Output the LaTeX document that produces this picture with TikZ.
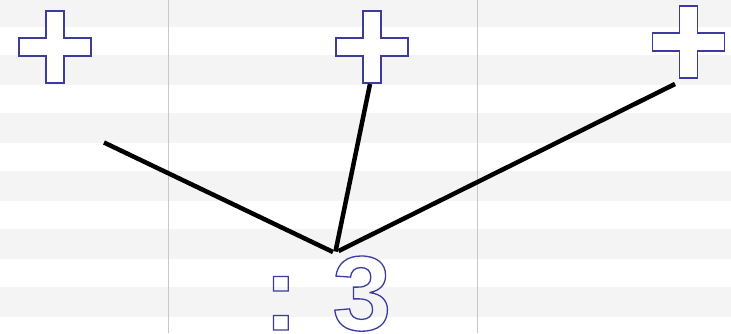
\documentclass[tikz,border=0pt]{standalone}
\usepackage{fontspec}
\setmainfont{Liberation Sans}
\definecolor{stripe}{HTML}{F4F4F4}
\definecolor{rulegray}{HTML}{C8C8C8}
\definecolor{ink}{HTML}{3C3C9C}
% hollow glyphs: stroke only
\newcommand{\outlined}[1]{\special{pdf:literal direct 1 Tr 1.3 w}#1\special{pdf:literal direct 0 Tr}}

\begin{document}
\begin{tikzpicture}[x=1pt, y=-1pt,
  plusedge/.style={draw=ink, line width=1.3pt, fill=white, line join=miter},
  spoke/.style={line width=4.5pt, black}]
  \useasboundingbox (0,0) rectangle (731,333);
  % background stripes
  \fill[white] (0,0) rectangle (731,333);
  \foreach \y in {-3,55,...,287} \fill[stripe] (0,\y) rectangle (731,\y+30);
  % column rules
  \foreach \x in {168.5,477.5} \draw[rulegray, line width=1pt] (\x,0) -- (\x,333);
  % plus signs
  \foreach \cx/\cy in {55/47, 372/47, 688.5/42}
    \draw[plusedge] (\cx,\cy) ++(-9,-36) -- ++(18,0) -- ++(0,27) -- ++(27,0)
      -- ++(0,18) -- ++(-27,0) -- ++(0,27) -- ++(-18,0) -- ++(0,-27)
      -- ++(-27,0) -- ++(0,-18) -- ++(27,0) -- cycle;
  % counter text
  \node[anchor=base west, inner sep=0pt, text=ink,
    font=\fontsize{106}{106}\selectfont\bfseries] (count) at (263,330)
    {\spaceskip=24pt\relax\outlined{: 3}};
  % spokes
  \coordinate (leftend) at (104,142.5);
  \coordinate (midend) at (370,84);
  \coordinate (rightend) at (675,84);
  \coordinate (hubA) at (333,252);
  \coordinate (hubB) at (335.5,251.5);
  \coordinate (hubC) at (338.5,251);
  \draw[spoke] (leftend) -- (hubA);
  \draw[spoke] (midend) -- (hubB);
  \draw[spoke] (rightend) -- (hubC);
\end{tikzpicture}
\end{document}
